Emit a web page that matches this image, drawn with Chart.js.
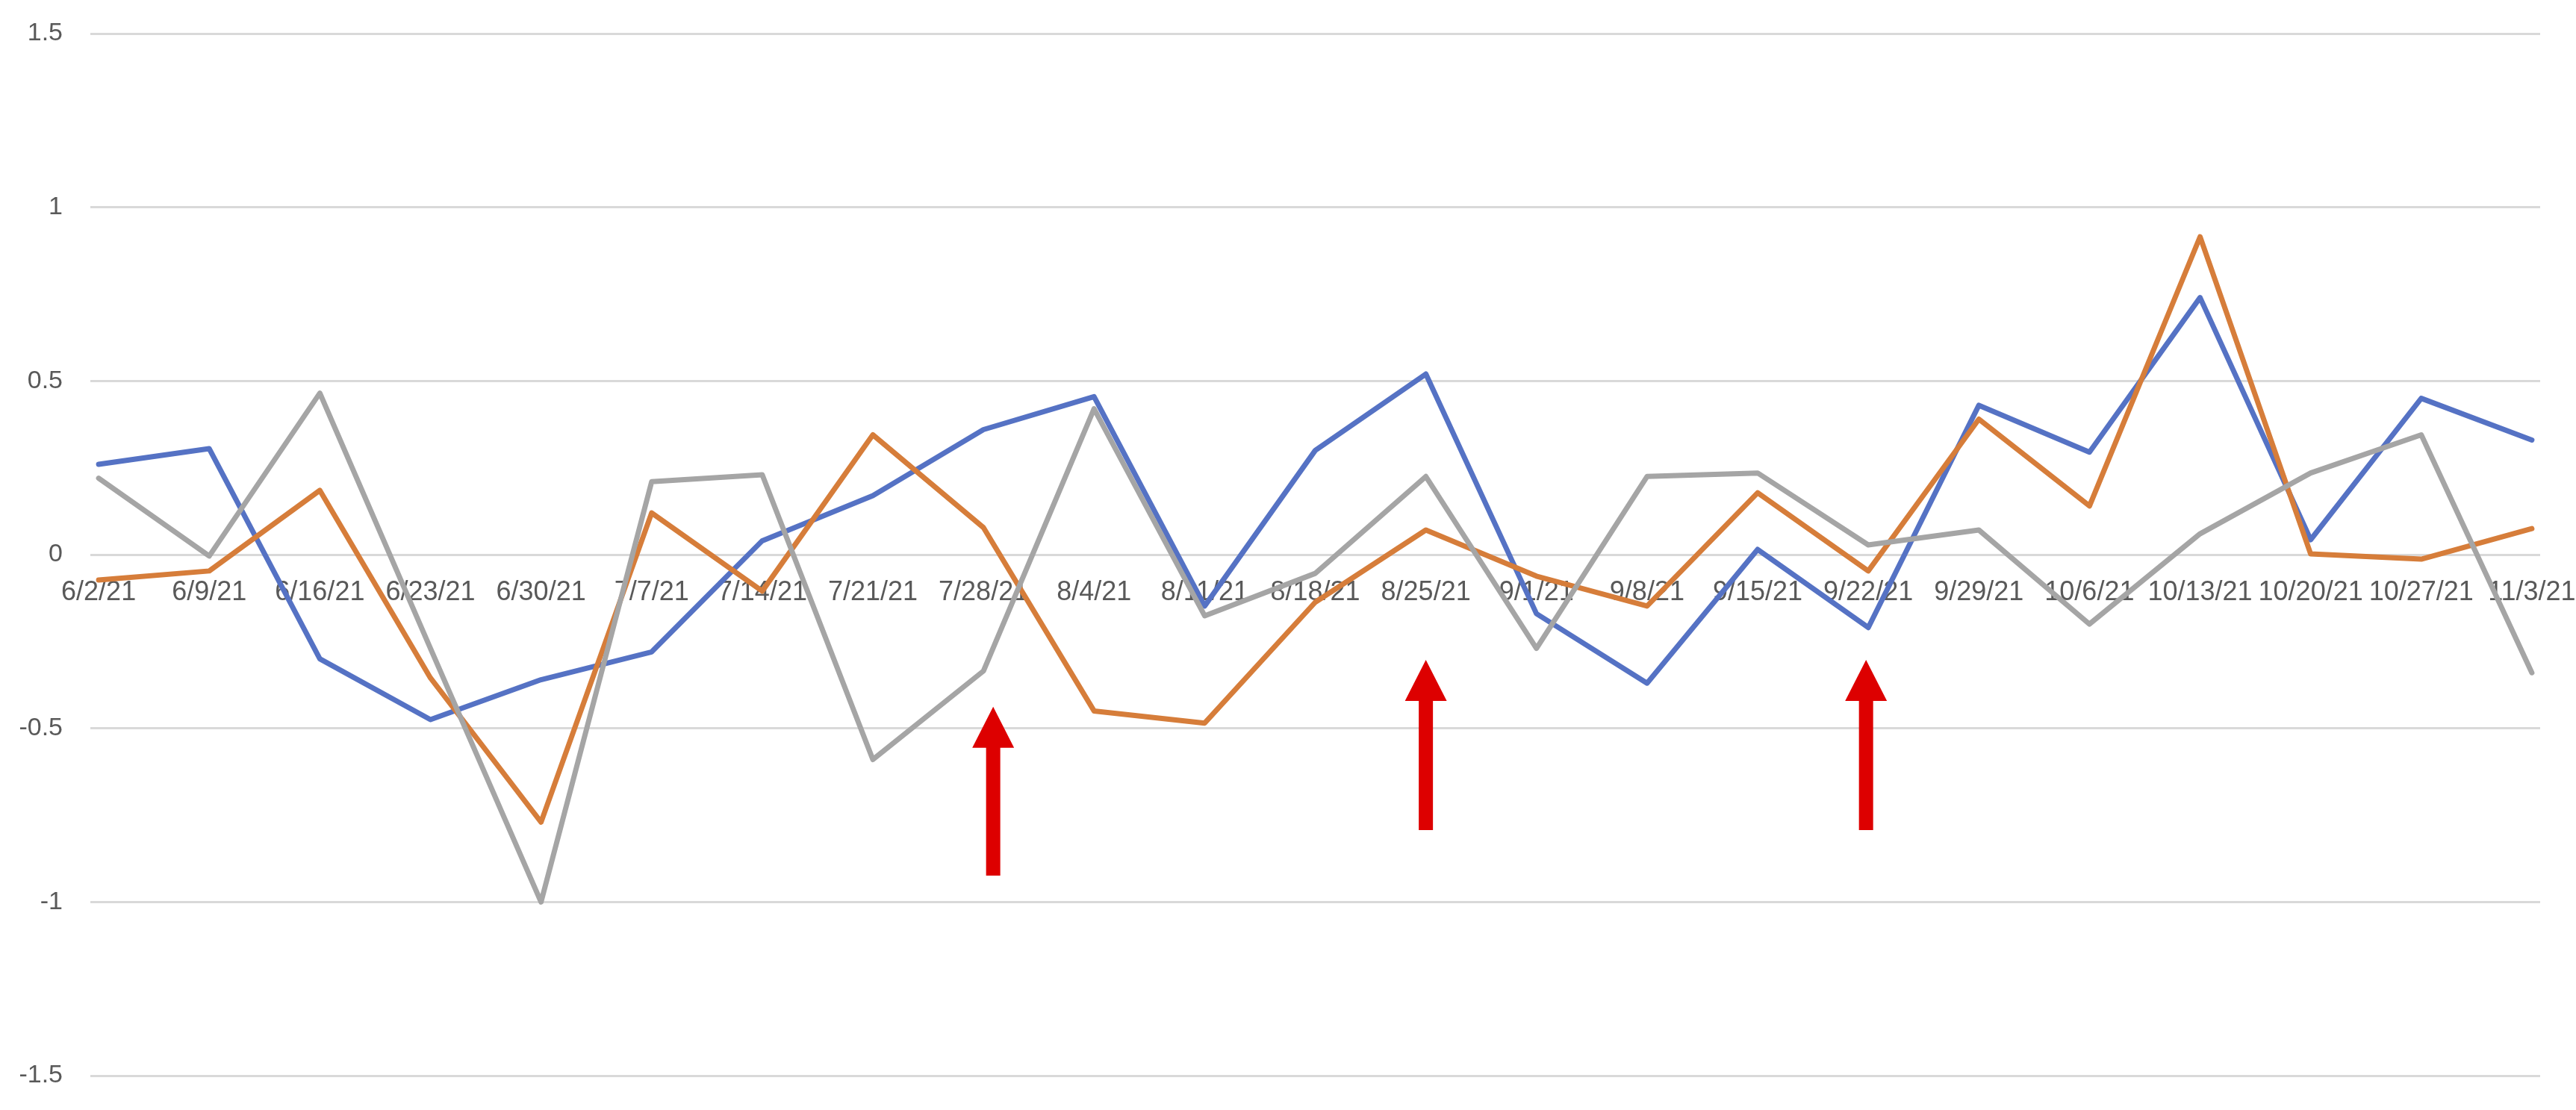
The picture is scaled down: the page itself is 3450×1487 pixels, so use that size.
<!DOCTYPE html>
<html>
<head>
<meta charset="utf-8">
<script src="https://cdn.jsdelivr.net/npm/chart.js@4.4.1/dist/chart.umd.min.js"></script>
<style>
  html, body { margin: 0; padding: 0; background: #fff; }
  #wrap { width: 3450px; height: 1487px; }
</style>
</head>
<body>
<div id="wrap"><canvas id="chart" width="3450" height="1487"></canvas></div>
<script>
const dates = ["6/2/21", "6/9/21", "6/16/21", "6/23/21", "6/30/21", "7/7/21", "7/14/21", "7/21/21",
  "7/28/21", "8/4/21", "8/11/21", "8/18/21", "8/25/21", "9/1/21", "9/8/21", "9/15/21", "9/22/21",
  "9/29/21", "10/6/21", "10/13/21", "10/20/21", "10/27/21", "11/3/21"];

const blueSeries = [0.26, 0.305, -0.30, -0.475, -0.36, -0.28, 0.04, 0.17, 0.36, 0.455, -0.148, 0.30,
  0.52, -0.17, -0.37, 0.015, -0.21, 0.43, 0.295, 0.74, 0.043, 0.45, 0.33];
const orangeSeries = [-0.073, -0.047, 0.185, -0.355, -0.77, 0.12, -0.105, 0.345, 0.078, -0.45, -0.485, -0.137,
  0.071, -0.062, -0.148, 0.178, -0.047, 0.39, 0.14, 0.915, 0.002, -0.013, 0.075];
const graySeries = [0.22, -0.004, 0.465, -0.27, -1.0, 0.21, 0.23, -0.59, -0.335, 0.42, -0.176, -0.054,
  0.225, -0.27, 0.225, 0.235, 0.028, 0.071, -0.2, 0.06, 0.235, 0.345, -0.34];

const yTicks = [-1.5, -1, -0.5, 0, 0.5, 1, 1.5];

// red arrows: x position (category index), tip and tail values
const arrowX = [8.088, 12.0, 15.98];
const arrowTip = [-0.438, -0.303, -0.303];
const arrowTail = [-0.924, -0.793, -0.793];

const toPoints = arr => arr.map((v, i) => ({ x: i, y: v }));

const arrowPlugin = {
  id: "arrows",
  afterDatasetsDraw(chart) {
    const { ctx, scales: { x, y } } = chart;
    ctx.save();
    ctx.fillStyle = "#DD0000";
    arrowX.forEach((ax, i) => {
      const cx = x.getPixelForValue(ax);
      const tip = y.getPixelForValue(arrowTip[i]);
      const tail = y.getPixelForValue(arrowTail[i]);
      const headH = 55, headW = 56, shaftW = 19;
      ctx.beginPath();
      ctx.moveTo(cx, tip);
      ctx.lineTo(cx + headW / 2, tip + headH);
      ctx.lineTo(cx + shaftW / 2, tip + headH);
      ctx.lineTo(cx + shaftW / 2, tail);
      ctx.lineTo(cx - shaftW / 2, tail);
      ctx.lineTo(cx - shaftW / 2, tip + headH);
      ctx.lineTo(cx - headW / 2, tip + headH);
      ctx.closePath();
      ctx.fill();
    });
    ctx.restore();
  }
};

const lineStyle = {
  borderWidth: 7,
  pointRadius: 0,
  tension: 0,
  borderJoinStyle: "round",
  borderCapStyle: "round",
  fill: false
};

new Chart(document.getElementById("chart").getContext("2d"), {
  type: "line",
  data: {
    datasets: [
      { ...lineStyle, label: "Series 1", data: toPoints(blueSeries), borderColor: "#5572C4", order: 2 },
      { ...lineStyle, label: "Series 2", data: toPoints(orangeSeries), borderColor: "#D67D3A", order: 1 },
      { ...lineStyle, label: "Series 3", data: toPoints(graySeries), borderColor: "#A5A5A5", order: 0 }
    ]
  },
  options: {
    responsive: false,
    animation: false,
    layout: { padding: { top: 45, bottom: 46, left: 0, right: 48 } },
    plugins: {
      legend: { display: false },
      tooltip: { enabled: false }
    },
    scales: {
      x: {
        type: "linear",
        position: { y: 0 },
        min: -0.075,
        max: dates.length - 1 + 0.075,
        grid: { display: false, drawTicks: true, tickLength: 29, tickColor: "rgba(0,0,0,0)" },
        border: { display: false },
        ticks: {
          stepSize: 1,
          includeBounds: false,
          autoSkip: false,
          maxRotation: 0,
          minRotation: 0,
          padding: 0,
          color: "#595959",
          font: { family: "Liberation Sans", size: 36 },
          callback: v => dates[v] ?? ""
        }
      },
      y: {
        min: -1.5,
        max: 1.5,
        afterFit: s => { s.width = 121; },
        afterBuildTicks: s => { s.ticks = yTicks.map(v => ({ value: v })); },
        grid: { color: "#D9D9D9", lineWidth: 3, drawTicks: true, tickLength: 37, tickColor: "rgba(0,0,0,0)" },
        border: { display: false },
        ticks: {
          padding: 0,
          color: "#595959",
          font: { family: "Liberation Sans", size: 34 },
          callback: v => String(v)
        }
      }
    }
  },
  plugins: [arrowPlugin]
});
</script>
</body>
</html>
